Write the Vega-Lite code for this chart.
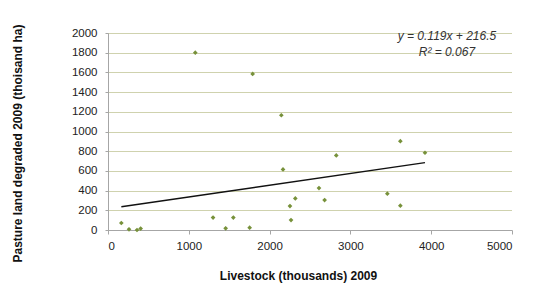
{
  "$schema": "https://vega.github.io/schema/vega-lite/v6.json",
  "width": 404,
  "height": 197,
  "autosize": {"type": "none"},
  "padding": {"left": 108, "top": 33, "right": 22, "bottom": 63},
  "background": "white",
  "config": {
    "view": {"stroke": null},
    "font": "Liberation Sans"
  },
  "datasets": {
    "pts": [
      {"livestock": 165, "pasture": 71},
      {"livestock": 260, "pasture": 7},
      {"livestock": 359, "pasture": 0},
      {"livestock": 404, "pasture": 14},
      {"livestock": 1080, "pasture": 1800},
      {"livestock": 1300, "pasture": 126},
      {"livestock": 1456, "pasture": 17},
      {"livestock": 1551, "pasture": 126},
      {"livestock": 1753, "pasture": 24},
      {"livestock": 1790, "pasture": 1585},
      {"livestock": 2145, "pasture": 1165},
      {"livestock": 2166, "pasture": 615},
      {"livestock": 2252, "pasture": 243},
      {"livestock": 2265, "pasture": 101},
      {"livestock": 2318, "pasture": 321},
      {"livestock": 2611, "pasture": 426},
      {"livestock": 2681, "pasture": 304},
      {"livestock": 2825, "pasture": 757},
      {"livestock": 3457, "pasture": 369},
      {"livestock": 3618, "pasture": 902},
      {"livestock": 3618, "pasture": 247},
      {"livestock": 3923, "pasture": 784}
    ],
    "trend": [
      {"livestock": 165, "pasture": 236},
      {"livestock": 3923, "pasture": 683}
    ],
    "label": [
      {"livestock": 4195, "pasture": 1925, "text": "y = 0.119x + 216.5"},
      {"livestock": 4195, "pasture": 1765, "text": "R² = 0.067"}
    ]
  },
  "encoding": {
    "x": {
      "field": "livestock", "type": "quantitative",
      "scale": {"domain": [0, 5000], "nice": false, "zero": true},
      "axis": {
        "title": "Livestock (thousands) 2009",
        "values": [0, 1000, 2000, 3000, 4000, 5000],
        "tickCount": 6,
        "format": "d",
        "grid": false,
        "domainColor": "#a6a6a6",
        "tickColor": "#a6a6a6",
        "tickSize": 4,
        "labelPadding": 6,
        "labelFontSize": 11.5,
        "labelColor": "#222222",
        "labelFont": "Liberation Sans",
        "titleFont": "Liberation Sans",
        "titleFontSize": 12,
        "titleFontWeight": "bold",
        "titleColor": "#111111",
        "titleX": 190,
        "titleY": 49,
        "titleBaseline": "alphabetic",
        "titleAnchor": "middle"
      }
    },
    "y": {
      "field": "pasture", "type": "quantitative",
      "scale": {"domain": [0, 2000], "nice": false},
      "axis": {
        "title": "Pasture land degraded 2009 (thoisand ha)",
        "values": [0, 200, 400, 600, 800, 1000, 1200, 1400, 1600, 1800, 2000],
        "tickCount": 11,
        "format": "d",
        "labelOverlap": false,
        "grid": true,
        "gridColor": "#9ea45c",
        "gridDash": [1, 1],
        "gridWidth": 1,
        "domainColor": "#a6a6a6",
        "tickColor": "#a6a6a6",
        "tickSize": 3,
        "labelPadding": 8,
        "labelFontSize": 11.5,
        "labelColor": "#222222",
        "labelFont": "Liberation Sans",
        "titleFont": "Liberation Sans",
        "titleFontSize": 12,
        "titleFontWeight": "bold",
        "titleColor": "#111111",
        "titleX": -84,
        "titleY": 110,
        "titleAnchor": "middle"
      }
    }
  },
  "layer": [
    {
      "data": {"name": "pts"},
      "mark": {"type": "point", "shape": "diamond", "filled": true, "size": 22, "color": "#77913a", "opacity": 1}
    },
    {
      "data": {"name": "trend"},
      "mark": {"type": "line", "color": "#111111", "strokeWidth": 1.3}
    },
    {
      "data": {"name": "label"},
      "mark": {"type": "text", "fontStyle": "italic", "fontSize": 12, "color": "#333333", "align": "center", "baseline": "alphabetic", "font": "Liberation Sans"},
      "encoding": {
        "text": {"field": "text"}
      }
    }
  ]
}
